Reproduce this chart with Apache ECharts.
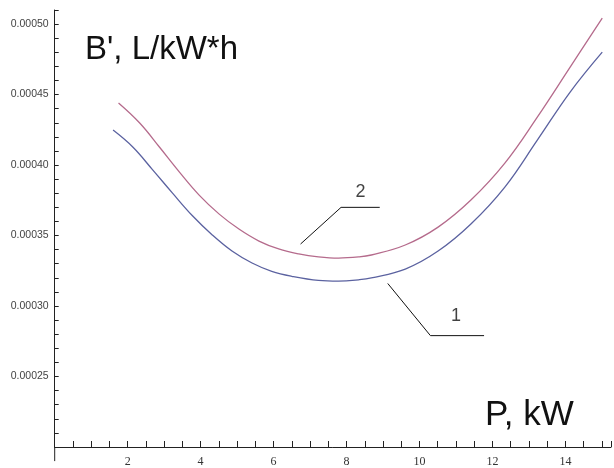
<!DOCTYPE html>
<html><head><meta charset="utf-8">
<script src="https://cdn.jsdelivr.net/npm/echarts@6/dist/echarts.min.js"></script>
<style>html,body{margin:0;padding:0;background:#fff}#c{width:614px;height:468px}</style>
</head><body><div id="c"></div>
<script>
// Curve 1 (lower, blue)
const curve1X = [1.60, 2.14, 2.68, 3.23, 3.77, 4.32, 4.86, 5.41, 5.95, 6.50, 7.23, 7.78, 8.33, 8.68, 9.61, 10.51, 11.41, 12.34, 13.23, 14.13, 15.01];
const curve1Y = [0.0004248, 0.0004128, 0.0003968, 0.0003801, 0.0003642, 0.0003504, 0.0003390, 0.0003305, 0.0003246, 0.0003211, 0.0003182, 0.0003177, 0.0003186, 0.0003199, 0.0003262, 0.0003390, 0.0003582, 0.0003844, 0.0004177, 0.0004518, 0.0004801];
// Curve 2 (upper, pink)
const curve2X = [1.75, 2.33, 2.87, 3.42, 3.96, 4.51, 5.05, 5.60, 6.14, 6.69, 7.23, 7.78, 8.33, 8.68, 9.61, 10.51, 11.41, 12.34, 13.23, 14.13, 15.01];
const curve2Y = [0.0004440, 0.0004298, 0.0004128, 0.0003950, 0.0003787, 0.0003652, 0.0003546, 0.0003461, 0.0003405, 0.0003370, 0.0003349, 0.0003340, 0.0003348, 0.0003362, 0.0003433, 0.0003560, 0.0003752, 0.0004014, 0.0004340, 0.0004695, 0.0005043];
// Leader lines for the curve numbers (data coordinates)
const leader2 = [[6.74, 0.000344], [7.85, 0.000370], [8.91, 0.000370]];
const leader1 = [[9.13, 0.000316], [10.30, 0.000279], [11.77, 0.000279]];
const curveLabels = [[8.38, 0.000381, '2'], [11.0, 0.000293, '1']];
// Axis extensions past the crossing point
const xAxisTail = [[-0.3, 0.0002], [0, 0.0002]];
const yAxisTail = [[0, 0.00019], [0, 0.0002]];
// Axis settings
const xMin = 0, xMax = 15.25, xStep = 0.5, xLabelStep = 2;
const yMin = 0.0002, yMax = 0.00051, yStep = 0.00001, yLabelStep = 0.00005;
const yTitle = "B', L/kW*h";
const xTitle = "P, kW";

const zip = (xs, ys) => xs.map((x, i) => [x, ys[i]]);
const isMult = (v, s) => { const k = v / s; return Math.abs(k - Math.round(k)) < 1e-6; };

const chart = echarts.init(document.getElementById('c'), null, {renderer: 'canvas'});
const axisCol = '#222';
const titleFont = "'Liberation Sans',Arial,sans-serif";
chart.setOption({
  animation: false,
  backgroundColor: '#fff',
  title: [
    {text: yTitle, left: 80, top: 28, textStyle: {fontFamily: titleFont, fontSize: 33, fontWeight: 'normal', color: '#111'}},
    {text: xTitle, left: 480, top: 393, textStyle: {fontFamily: titleFont, fontSize: 35, fontWeight: 'normal', color: '#111'}}
  ],
  grid: {left: 54.7, right: 0, top: 10, bottom: 21},
  xAxis: {
    type: 'value', min: xMin, max: xMax, interval: xStep,
    axisLine: {onZero: false, lineStyle: {color: axisCol, width: 1}},
    axisTick: {inside: true, length: 6, lineStyle: {color: axisCol}},
    splitLine: {show: false},
    axisLabel: {margin: 9, color: '#333', fontSize: 12, fontFamily: "'Liberation Serif',serif",
      formatter: v => (v > 0 && isMult(v, xLabelStep)) ? String(Math.round(v)) : ''}
  },
  yAxis: {
    type: 'value', min: yMin, max: yMax, interval: yStep,
    axisLine: {onZero: false, lineStyle: {color: axisCol, width: 1}},
    axisTick: {inside: true, length: 4, lineStyle: {color: axisCol}},
    splitLine: {show: false},
    axisLabel: {margin: 6, color: '#444', fontSize: 10.5, fontFamily: "'Liberation Sans',sans-serif",
      formatter: v => (v > yMin + yStep / 2 && isMult(v, yLabelStep)) ? v.toFixed(5) : ''}
  },
  series: [
    {type: 'line', data: zip(curve1X, curve1Y), smooth: 0.4, symbol: 'none', lineStyle: {color: '#5b62a0', width: 1.3}, silent: true},
    {type: 'line', data: zip(curve2X, curve2Y), smooth: 0.4, symbol: 'none', lineStyle: {color: '#b56b8c', width: 1.3}, silent: true},
    {type: 'line', data: leader2, symbol: 'none', lineStyle: {color: '#111', width: 1}, silent: true},
    {type: 'line', data: leader1, symbol: 'none', lineStyle: {color: '#111', width: 1}, silent: true},
    {type: 'line', data: xAxisTail, symbol: 'none', clip: false, lineStyle: {color: axisCol, width: 1}, silent: true},
    {type: 'line', data: yAxisTail, symbol: 'none', clip: false, lineStyle: {color: axisCol, width: 1}, silent: true},
    {type: 'scatter', data: curveLabels, symbolSize: 0, silent: true,
      label: {show: true, position: 'inside', formatter: p => p.data[2], fontSize: 18, color: '#111', fontFamily: titleFont}}
  ]
});
</script></body></html>
